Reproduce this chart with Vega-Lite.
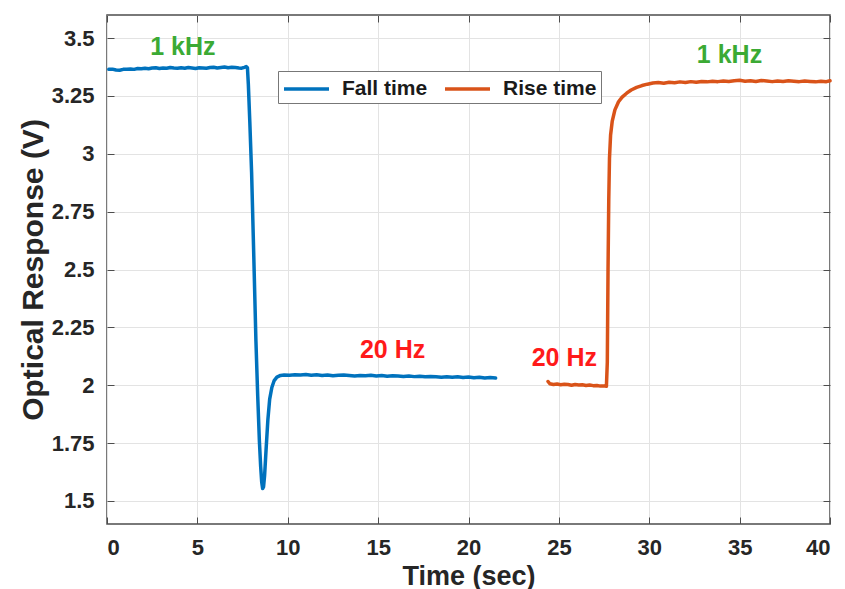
{
  "$schema": "https://vega.github.io/schema/vega-lite/v6.json",
  "width": 723,
  "height": 509,
  "autosize": "none",
  "padding": {"left": 107, "top": 15, "right": 15, "bottom": 65},
  "background": "white",
  "config": {"view": {"stroke": "#4d4d4d", "strokeWidth": 1.5}, "font": "Liberation Sans"},
  "datasets": {
    "fall": [
      {"t":0.1,"v":3.365},{"t":0.3,"v":3.366},{"t":0.5,"v":3.362},{"t":0.7,"v":3.361},{"t":0.9,"v":3.365},{"t":1.1,"v":3.366},{"t":1.3,"v":3.367},{"t":1.5,"v":3.365},{"t":1.7,"v":3.369},{"t":1.9,"v":3.368},{"t":2.1,"v":3.370},{"t":2.3,"v":3.368},{"t":2.5,"v":3.371},{"t":2.7,"v":3.372},{"t":2.9,"v":3.369},{"t":3.1,"v":3.371},{"t":3.3,"v":3.370},{"t":3.5,"v":3.373},{"t":3.7,"v":3.371},{"t":3.9,"v":3.370},{"t":4.1,"v":3.372},{"t":4.3,"v":3.370},{"t":4.5,"v":3.373},{"t":4.7,"v":3.371},{"t":4.9,"v":3.369},{"t":5.1,"v":3.372},{"t":5.3,"v":3.371},{"t":5.5,"v":3.370},{"t":5.7,"v":3.373},{"t":5.9,"v":3.374},{"t":6.1,"v":3.371},{"t":6.3,"v":3.373},{"t":6.5,"v":3.375},{"t":6.7,"v":3.372},{"t":6.9,"v":3.374},{"t":7.1,"v":3.373},{"t":7.3,"v":3.371},{"t":7.45,"v":3.370},{"t":7.6,"v":3.374},{"t":7.7,"v":3.377},{"t":7.77,"v":3.372},{"t":7.82,"v":3.30},{"t":7.9,"v":3.14},{"t":8.0,"v":2.92},{"t":8.12,"v":2.56},{"t":8.24,"v":2.19},{"t":8.34,"v":1.95},{"t":8.43,"v":1.76},{"t":8.5,"v":1.65},{"t":8.56,"v":1.58},{"t":8.61,"v":1.553},{"t":8.66,"v":1.56},{"t":8.72,"v":1.61},{"t":8.8,"v":1.72},{"t":8.9,"v":1.85},{"t":9.0,"v":1.94},{"t":9.12,"v":1.99},{"t":9.25,"v":2.02},{"t":9.4,"v":2.035},{"t":9.6,"v":2.042},{"t":9.8,"v":2.044},{"t":10.1,"v":2.043},{"t":10.4,"v":2.045},{"t":10.7,"v":2.044},{"t":11.0,"v":2.046},{"t":11.3,"v":2.043},{"t":11.6,"v":2.045},{"t":11.9,"v":2.042},{"t":12.2,"v":2.044},{"t":12.5,"v":2.041},{"t":12.8,"v":2.043},{"t":13.1,"v":2.044},{"t":13.4,"v":2.042},{"t":13.7,"v":2.040},{"t":14.0,"v":2.042},{"t":14.3,"v":2.041},{"t":14.6,"v":2.043},{"t":14.9,"v":2.040},{"t":15.2,"v":2.042},{"t":15.5,"v":2.039},{"t":15.8,"v":2.041},{"t":16.1,"v":2.040},{"t":16.4,"v":2.038},{"t":16.7,"v":2.040},{"t":17.0,"v":2.037},{"t":17.3,"v":2.039},{"t":17.6,"v":2.036},{"t":17.9,"v":2.038},{"t":18.2,"v":2.036},{"t":18.5,"v":2.034},{"t":18.8,"v":2.036},{"t":19.1,"v":2.034},{"t":19.4,"v":2.036},{"t":19.7,"v":2.033},{"t":20.0,"v":2.035},{"t":20.3,"v":2.032},{"t":20.6,"v":2.034},{"t":20.9,"v":2.031},{"t":21.2,"v":2.033},{"t":21.5,"v":2.031}
    ],
    "rise": [
      {"t":24.4,"v":2.016},{"t":24.5,"v":2.006},{"t":24.7,"v":2.003},{"t":24.9,"v":2.005},{"t":25.1,"v":2.002},{"t":25.3,"v":2.004},{"t":25.5,"v":2.003},{"t":25.7,"v":2.000},{"t":25.9,"v":2.003},{"t":26.1,"v":2.001},{"t":26.3,"v":2.002},{"t":26.5,"v":1.999},{"t":26.7,"v":2.001},{"t":26.9,"v":1.998},{"t":27.1,"v":1.999},{"t":27.3,"v":1.996},{"t":27.5,"v":1.997},{"t":27.63,"v":1.995},{"t":27.68,"v":2.1},{"t":27.72,"v":2.5},{"t":27.76,"v":2.8},{"t":27.8,"v":2.98},{"t":27.86,"v":3.08},{"t":27.95,"v":3.14},{"t":28.1,"v":3.19},{"t":28.3,"v":3.225},{"t":28.5,"v":3.245},{"t":28.75,"v":3.262},{"t":29.0,"v":3.276},{"t":29.3,"v":3.287},{"t":29.6,"v":3.295},{"t":29.9,"v":3.301},{"t":30.2,"v":3.306},{"t":30.5,"v":3.308},{"t":30.8,"v":3.305},{"t":31.1,"v":3.309},{"t":31.4,"v":3.307},{"t":31.7,"v":3.311},{"t":32.0,"v":3.308},{"t":32.3,"v":3.312},{"t":32.6,"v":3.309},{"t":32.9,"v":3.313},{"t":33.2,"v":3.311},{"t":33.5,"v":3.314},{"t":33.8,"v":3.312},{"t":34.1,"v":3.315},{"t":34.4,"v":3.313},{"t":34.7,"v":3.316},{"t":35.0,"v":3.318},{"t":35.3,"v":3.314},{"t":35.6,"v":3.316},{"t":35.9,"v":3.313},{"t":36.2,"v":3.317},{"t":36.5,"v":3.315},{"t":36.8,"v":3.312},{"t":37.1,"v":3.315},{"t":37.4,"v":3.313},{"t":37.7,"v":3.316},{"t":38.0,"v":3.314},{"t":38.3,"v":3.312},{"t":38.6,"v":3.315},{"t":38.9,"v":3.313},{"t":39.2,"v":3.311},{"t":39.5,"v":3.314},{"t":39.8,"v":3.312},{"t":40.0,"v":3.316}
    ],
    "khz": [
      {"t":4.2,"v":3.462,"label":"1 kHz"},
      {"t":34.44,"v":3.426,"label":"1 kHz"}
    ],
    "hz": [
      {"t":15.8,"v":2.151,"label":"20 Hz"},
      {"t":25.3,"v":2.116,"label":"20 Hz"}
    ]
  },
  "layer": [
    {
      "encoding": {
        "x": {"field": "t", "type": "quantitative",
          "scale": {"domain": [0, 40], "nice": false, "zero": false},
          "axis": {"title": "Time (sec)", "orient": "bottom", "values": [0,5,10,15,20,25,30,35,40],
            "grid": true, "gridColor": "#e3e3e3", "gridWidth": 1, "domain": false,
            "tickSize": -7, "tickColor": "#4d4d4d", "tickWidth": 1,
            "labelFontSize": 22, "labelFontWeight": "bold", "labelColor": "#262626", "labelPadding": 20,
            "titleFontSize": 27, "titleFontWeight": "bold", "titleColor": "#262626", "titlePadding": 5}},
        "y": {"field": "v", "type": "quantitative",
          "scale": {"domain": [1.4, 3.6], "nice": false, "zero": false},
          "axis": {"title": "Optical Response (V)", "orient": "left", "values": [1.5,1.75,2,2.25,2.5,2.75,3,3.25,3.5],
            "labelExpr": "'' + datum.value",
            "grid": true, "gridColor": "#e3e3e3", "gridWidth": 1, "domain": false,
            "tickSize": -7, "tickColor": "#4d4d4d", "tickWidth": 1,
            "labelFontSize": 22, "labelFontWeight": "bold", "labelColor": "#262626", "labelPadding": 20,
            "titleFontSize": 30, "titleFontWeight": "bold", "titleColor": "#262626", "titlePadding": 3}}
      },
      "layer": [
        {
          "data": {"name": "fall"},
          "mark": {"type": "line", "strokeWidth": 3.5, "strokeCap": "round", "strokeJoin": "round"},
          "encoding": {
            "color": {"datum": "Fall time",
              "scale": {"domain": ["Fall time", "Rise time"], "range": ["#0072BD", "#D95319"]},
              "legend": {"orient": "none", "legendX": 171, "legendY": 56, "direction": "horizontal",
                "title": null, "symbolType": "M-1,0H2.75", "symbolSize": 576, "symbolStrokeWidth": 3.5,
                "labelFontSize": 21, "labelFontWeight": "bold", "labelColor": "#1a1a1a",
                "strokeColor": "#777", "fillColor": "white", "padding": 4, "columnPadding": 10, "labelOffset": 32}}
          }
        },
        {
          "data": {"name": "rise"},
          "mark": {"type": "line", "strokeWidth": 3.5, "strokeCap": "round", "strokeJoin": "round"},
          "encoding": {"color": {"datum": "Rise time"}}
        },
        {
          "data": {"name": "hz"},
          "mark": {"type": "text", "color": "#FF1A1A", "fontSize": 25, "fontWeight": "bold", "align": "center", "baseline": "middle"},
          "encoding": {"text": {"field": "label"}}
        }
      ]
    },
    {
      "data": {"name": "khz"},
      "mark": {"type": "text", "color": "#3BAA34", "fontSize": 25, "fontWeight": "bold", "align": "center", "baseline": "middle"},
      "encoding": {
        "text": {"field": "label"},
        "x": {"field": "t", "type": "quantitative",
          "axis": {"orient": "top", "title": null, "labels": false, "grid": false, "domain": false,
            "values": [0,5,10,15,20,25,30,35,40], "tickSize": -7, "tickColor": "#4d4d4d", "tickWidth": 1}},
        "y": {"field": "v", "type": "quantitative",
          "axis": {"orient": "right", "title": null, "labels": false, "grid": false, "domain": false,
            "values": [1.5,1.75,2,2.25,2.5,2.75,3,3.25,3.5], "tickSize": -7, "tickColor": "#4d4d4d", "tickWidth": 1}}
      }
    }
  ],
  "resolve": {"axis": {"x": "independent", "y": "independent"}}
}
